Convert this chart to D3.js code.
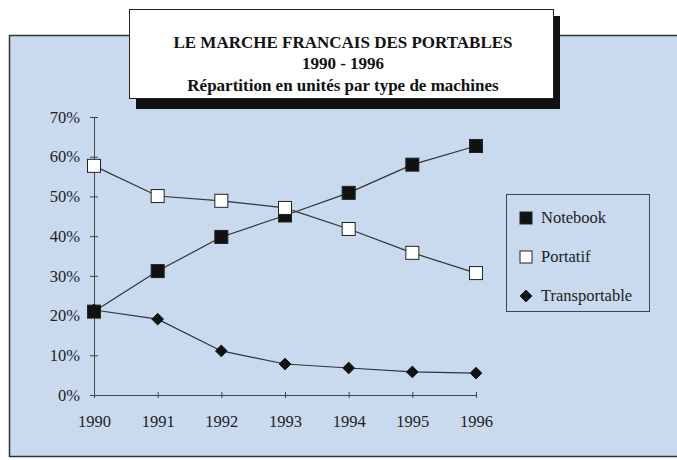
<!DOCTYPE html>
<html>
<head>
<meta charset="utf-8">
<script src="https://cdn.jsdelivr.net/npm/d3@7"></script>
<style>
  html, body { margin: 0; padding: 0; background: #fff; }
  svg { display: block; }
</style>
</head>
<body>
<svg id="chart" width="677" height="460"></svg>
<script>
// Market share of portable computers in France, by machine type
const years = [1990, 1991, 1992, 1993, 1994, 1995, 1996];
const notebook = [21, 31.2, 39.8, 45.2, 50.9, 58, 62.7];
const portatif = [57.7, 50.1, 48.9, 47.1, 41.8, 35.8, 30.7];
const transportable = [21.4, 19.1, 11.1, 7.8, 6.8, 5.8, 5.5];
const yTicks = [0, 10, 20, 30, 40, 50, 60, 70];
const seriesNames = ["Notebook", "Portatif", "Transportable"];
const titleLines = [
  "LE MARCHE FRANCAIS DES PORTABLES",
  "1990 - 1996",
  "Répartition en unités par type de machines"
];

const svg = d3.select("#chart");
const serif = "'Liberation Serif', 'DejaVu Serif', serif";
const bg = "#c9d9ee";

// Panel
svg.append("rect").attr("x", 9.5).attr("y", 35.5).attr("width", 700).attr("height", 421)
  .attr("fill", bg).attr("stroke", "#333").attr("stroke-width", 1.5);

// Scales
const x = d3.scalePoint().domain(years).range([94, 476]);
const y = d3.scaleLinear().domain([0, 70]).range([395, 117]);

// Axes
const xAxis = d3.axisBottom(x).tickSize(4).tickSizeOuter(0).tickPadding(13);
const gx = svg.append("g").attr("transform", "translate(0,395)").call(xAxis);
gx.select(".domain").attr("stroke", "#444");
gx.selectAll(".tick line").attr("stroke", "#444").attr("y1", -3).attr("y2", 3);
gx.selectAll("text").attr("font-family", serif).attr("font-size", 16.5).attr("fill", "#222")
  .attr("dy", "0.9em");

const yAxis = d3.axisLeft(y).tickValues(yTicks).tickFormat(d => d + "%").tickSize(4).tickSizeOuter(0).tickPadding(10);
const gy = svg.append("g").attr("transform", "translate(94,0)").call(yAxis);
gy.select(".domain").attr("stroke", "#444");
gy.selectAll(".tick line").attr("stroke", "#444").attr("x1", -4).attr("x2", 4);
gy.selectAll("text").attr("font-family", serif).attr("font-size", 16.5).attr("fill", "#222");

// Series
const series = [
  { name: seriesNames[0], values: notebook, shape: "square", fill: "#111" },
  { name: seriesNames[1], values: portatif, shape: "square", fill: "#fff" },
  { name: seriesNames[2], values: transportable, shape: "diamond", fill: "#111" }
];

const line = d3.line().x((d, i) => x(years[i])).y(d => y(d));

function drawMarker(g, s, cx, cy, size) {
  if (s.shape === "square") {
    g.append("rect").attr("x", cx - size / 2).attr("y", cy - size / 2)
      .attr("width", size).attr("height", size)
      .attr("fill", s.fill).attr("stroke", "#222").attr("stroke-width", 1);
  } else {
    const r = size * 0.45;
    g.append("path").attr("d", `M${cx},${cy - r}L${cx + r},${cy}L${cx},${cy + r}L${cx - r},${cy}Z`)
      .attr("fill", s.fill).attr("stroke", "#111").attr("stroke-width", 1);
  }
}

series.forEach(s => {
  svg.append("path").datum(s.values).attr("d", line)
    .attr("fill", "none").attr("stroke", "#333").attr("stroke-width", 1.2);
});
series.forEach(s => {
  const g = svg.append("g");
  s.values.forEach((v, i) => drawMarker(g, s, x(years[i]), y(v), 13));
});

// Legend
const lg = svg.append("g");
lg.append("rect").attr("x", 506.5).attr("y", 194.5).attr("width", 143).attr("height", 117)
  .attr("fill", bg).attr("stroke", "#444").attr("stroke-width", 1);
series.forEach((s, i) => {
  const cy = 218 + i * 39;
  drawMarker(lg, s, 526, cy, s.shape === "square" ? 12 : 13);
  lg.append("text").attr("x", 541).attr("y", cy + 5).text(s.name)
    .attr("font-family", serif).attr("font-size", 16.5).attr("fill", "#222");
});

// Title box with drop shadow
svg.append("rect").attr("x", 136).attr("y", 16).attr("width", 424).attr("height", 93).attr("fill", "#111");
svg.append("rect").attr("x", 129.5).attr("y", 9.5).attr("width", 424).attr("height", 89)
  .attr("fill", "#fff").attr("stroke", "#222").attr("stroke-width", 1);
titleLines.forEach((t, i) => {
  svg.append("text").attr("x", 343).attr("y", [48, 69, 91][i]).attr("text-anchor", "middle")
    .attr("font-family", serif).attr("font-weight", "bold").attr("font-size", 17).attr("fill", "#111")
    .text(t);
});
</script>
</body>
</html>
